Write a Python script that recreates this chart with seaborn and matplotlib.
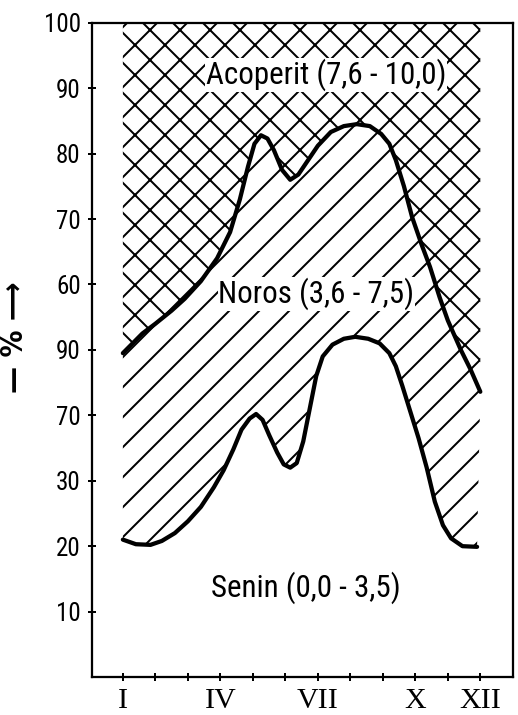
import numpy as np
import pandas as pd
import matplotlib
matplotlib.use("Agg")
import matplotlib.pyplot as plt
from matplotlib import font_manager
import seaborn as sns

# Upper boundary (Noros / Acoperit), month vs percent
upper_month = [1.0, 1.3, 1.6, 2.0, 2.5, 2.9, 3.4, 3.9, 4.3, 4.6, 4.85, 5.05, 5.25,
               5.45, 5.65, 5.9, 6.15, 6.4, 6.7, 7.0, 7.4, 7.8, 8.2, 8.6, 8.95, 9.2,
               9.4, 9.65, 9.9, 10.2, 10.45, 10.75, 11.0, 11.4, 11.7, 12.0]
upper_pct = [49.5, 51, 52.5, 54, 56, 57.8, 60.5, 64, 68, 73, 78, 81.5, 82.8,
             82.3, 80.5, 77.5, 76, 76.8, 79, 81.2, 83.3, 84.2, 84.5, 84.2, 83, 81.5,
             79, 75, 70.3, 66, 62.7, 58, 54.5, 50, 47, 43.6]

# Lower boundary (Senin / Noros)
lower_month = [1.0, 1.4, 1.85, 2.2, 2.6, 3.0, 3.4, 3.8, 4.1, 4.4, 4.65, 4.9, 5.1,
               5.3, 5.5, 5.75, 5.95, 6.15, 6.35, 6.55, 6.75, 6.95, 7.15, 7.45, 7.8,
               8.15, 8.55, 8.9, 9.2, 9.4, 9.6, 9.85, 10.1, 10.35, 10.6, 10.85, 11.1,
               11.45, 11.9]
lower_pct = [21, 20.3, 20.2, 20.8, 22, 23.8, 26, 29, 31.6, 34.8, 37.8, 39.5, 40.2,
             39.3, 37, 34.3, 32.5, 32, 32.7, 36, 41, 46, 49, 50.8, 51.7,
             52, 51.7, 51, 49.5, 47.5, 44.5, 40.5, 36.5, 32, 26.8, 23.2, 21.2,
             20, 19.9]

month_ticks = list(range(1, 13))
month_labels = ["I", "", "", "IV", "", "", "VII", "", "", "X", "", "XII"]
pct_ticks = [10, 20, 30, 40, 50, 60, 70, 80, 90, 100]
pct_labels = ["10", "20", "30", "70", "90", "60", "70", "80", "90", "100"]

# region labels: (text, month, percent)
regions = [("Acoperit (7,6 - 10,0)", 7.25, 92.0),
           ("Noros (3,6 - 7,5)", 6.95, 58.6),
           ("Senin (0,0 - 3,5)", 6.64, 13.6)]

sns.set_style("ticks")

# pick a narrow sans if one is there
installed = {f.name for f in font_manager.fontManager.ttflist}
narrow = [n for n in ["Liberation Sans Narrow", "Roboto Condensed", "Open Sans Condensed"]
          if n in installed]
SANS = narrow[:1] + ["DejaVu Sans"]
plt.rcParams["font.family"] = SANS
plt.rcParams["font.stretch"] = "condensed"
plt.rcParams["text.color"] = "black"
plt.rcParams["axes.labelcolor"] = "black"
plt.rcParams["hatch.linewidth"] = 0.8
plt.rcParams["hatch.color"] = "black"

small = 1.0 if narrow else 0.85

up = pd.DataFrame({"month": upper_month, "pct": upper_pct})
lo = pd.DataFrame({"month": lower_month, "pct": lower_pct})

fig = plt.figure(figsize=(518 / 180, 715 / 180), dpi=180)
ax = fig.add_axes([0.1776, 0.0531, 0.8124, 0.9151])

# hatched areas
ax.fill_between(up["month"], up["pct"], 100, facecolor="none", edgecolor="black",
                hatch="xx", linewidth=0)
ax.fill(np.r_[up["month"], lo["month"][::-1]], np.r_[up["pct"], lo["pct"][::-1]],
        facecolor="none", edgecolor="black", hatch="//", linewidth=0)

sns.lineplot(data=up, x="month", y="pct", color="black", lw=1.7, ax=ax, sort=False)
sns.lineplot(data=lo, x="month", y="pct", color="black", lw=1.7, ax=ax, sort=False)

for txt, mx, py in regions:
    ax.text(mx, py, txt, ha="center", va="center", fontsize=12.4 * small,
            bbox=dict(facecolor="white", edgecolor="none", pad=0.3))

ax.set_xlim(0.05, 13.0)
ax.set_ylim(0, 100)
ax.set_xticks(month_ticks)
ax.set_xticklabels(month_labels, family=["Liberation Serif", "DejaVu Serif"], fontsize=12)
ax.set_yticks(pct_ticks)
ax.set_yticklabels(pct_labels, fontsize=10 * small)
ax.tick_params(direction="inout", length=3, width=0.8, colors="black", pad=3)
for s in ax.spines.values():
    s.set_linewidth(0.9)
    s.set_color("black")

ax.set_xlabel("")
ax.set_ylabel("— % ⟶", fontsize=12, family=["DejaVu Sans"], fontweight="bold")
ax.yaxis.set_label_coords(-0.15, 0.52)

fig.savefig("out.png", dpi=180)
